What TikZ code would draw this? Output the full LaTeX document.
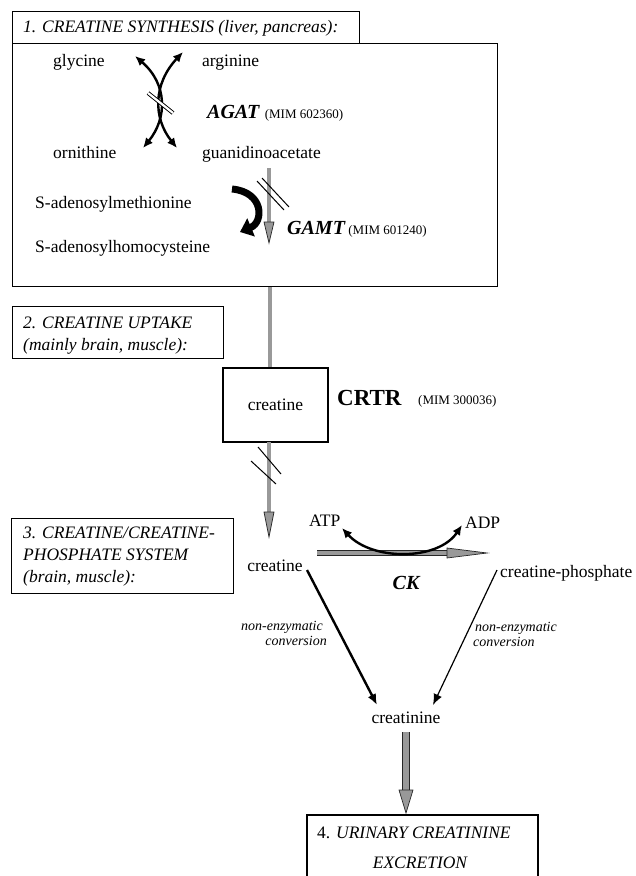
\documentclass[tikz,border=0pt]{standalone}
\usepackage{fontspec}
\setmainfont{Liberation Serif}
\usetikzlibrary{arrows.meta,calc}
\tikzset{
  txt/.style={inner sep=0pt, font=\fontsize{17.5}{21}\selectfont},
  itx/.style={inner sep=0pt, font=\fontsize{17.5}{21}\selectfont\itshape},
  mim/.style={inner sep=0pt, font=\fontsize{13}{15}\selectfont},
  enz/.style={inner sep=0pt, font=\fontsize{20}{24}\selectfont\bfseries\itshape},
  conv/.style={inner sep=0pt, font=\fontsize{14}{16}\selectfont\itshape},
  boxline/.style={draw, line width=1.1pt, inner sep=0pt, anchor=north west},
  blk/.style={line width=2.4pt, {Latex[length=10pt,width=9pt]}-{Latex[length=10pt,width=9pt]}},
  oneway/.style={-{Latex[length=11pt,width=9pt]}},
  bar/.style={line width=0.7pt, draw=black!85, double=black!40, double distance=3.5pt},
  ckbar/.style={line width=0.8pt, draw=black!85, double=black!40, double distance=4pt},
  widebar/.style={line width=0.7pt, draw=black!85, double=black!40, double distance=6pt},
  head/.style={fill=black!40, draw=black!85, line width=0.7pt},
  slash/.style={line width=1pt},
}
\newcommand\grayarr[5]{% style, start, tip, head length, half width
  \draw[#1] (#2) -- ($(#3)+(0,-#4)$);
  \filldraw[head] ($(#3)+(-#5,-#4)$) -- ($(#3)+(#5,-#4)$) -- (#3) -- cycle;}
\begin{document}
\begin{tikzpicture}[x=1pt,y=-1pt]
\useasboundingbox (0,0) rectangle (636,876);

% ---------- section 1 ----------
\node[boxline, minimum width=347pt, minimum height=32pt] (t1box) at (12,11) {};
\node[itx, anchor=base west] (t1) at (23,32) {1. CREATINE SYNTHESIS (liver, pancreas):};
\node[boxline, minimum width=485pt, minimum height=243pt] (box1) at (12,43) {};

\node[txt, anchor=base west] (gly) at (53,66) {glycine};
\node[txt, anchor=base west] (arg) at (202,66) {arginine};
\node[enz, anchor=base west] (agat) at (207,118) {AGAT};
\node[mim, anchor=base west] (agatmim) at ([xshift=5pt]agat.base east) {(MIM 602360)};
\node[txt, anchor=base west] (orn) at (53,158) {ornithine};
\node[txt, anchor=base west] (gaa) at (202,158) {guanidinoacetate};

\coordinate (tl) at (135,56);
\coordinate (tr) at (183,52);
\coordinate (bl) at (143,148);
\coordinate (br) at (177,148);
\draw[blk] (tl) .. controls (167.5,84) and (167.5,118) .. (bl);
\draw[blk] (tr) .. controls (153,84) and (153,118) .. (br);
\coordinate (as1) at (148,93);
\coordinate (as2) at (173,113);
\draw[line width=0.9pt, double=white, double distance=2.2pt] (as1) -- (as2);

\node[txt, anchor=base west] (sam) at (35,208) {S-adenosylmethionine};
\node[txt, anchor=base west] (sah) at (35,252) {S-adenosylhomocysteine};
\coordinate (c1) at (232,189);
\coordinate (c2) at (240,232);
\draw[line width=7pt, -{Triangle[length=12pt,width=19pt]}] (c1) .. controls (264,192) and (264,222) .. (c2);

\coordinate (gt) at (269,168);
\coordinate (gb) at (269,243);
\grayarr{bar}{gt}{gb}{21}{5}
\coordinate (gs1) at (257,181);
\coordinate (gs2) at (284,210);
\draw[slash] (gs1) -- (gs2);
\draw[slash] ($(gs1)+(5,-3)$) -- ($(gs2)+(5,-3)$);
\node[enz, anchor=base west] (gamt) at (287,234) {GAMT};
\node[mim, anchor=base west] (gamtmim) at ([xshift=3pt]gamt.base east) {(MIM 601240)};

% ---------- section 2 ----------
\node[boxline, minimum width=211pt, minimum height=52pt] (t2box) at (12,306) {};
\node[itx, anchor=base west] (t2a) at (23,328) {2. CREATINE UPTAKE};
\node[itx, anchor=base west] (t2b) at (23,350) {(mainly brain, muscle):};

\node[draw, line width=1.1pt, minimum width=105pt, minimum height=74pt, txt] (crbox) at (275.5,405) {creatine};
\node[inner sep=0pt, font=\fontsize{23}{26}\selectfont\bfseries, anchor=base west] (crtr) at (337,405) {CRTR};
\node[mim, anchor=base west] (crtrmim) at (418,404) {(MIM 300036)};

\draw[bar] (box1.south -| 270,0) -- (crbox.north -| 270,0);

% ---------- section 3 ----------
\node[boxline, minimum width=222pt, minimum height=75pt] (t3box) at (11,518) {};
\node[itx, anchor=base west] (t3a) at (23,538) {3. CREATINE/CREATINE-};
\node[itx, anchor=base west] (t3b) at (23,560) {PHOSPHATE SYSTEM};
\node[itx, anchor=base west] (t3c) at (23,582) {(brain, muscle):};

\coordinate (ut) at (269,442);
\coordinate (ub) at (269,537);
\grayarr{bar}{ut}{ub}{25}{5}
\coordinate (us1) at (258,447);
\coordinate (us2) at (281,474);
\draw[slash] (us1) -- (us2);
\draw[slash] (251,461) -- (276,484);

\node[txt, anchor=base] (cr) at (275,571) {creatine};
\node[txt, anchor=base west] (crp) at (500,577) {creatine-phosphate};
\node[txt, anchor=base west] (atp) at (309,526) {ATP};
\node[txt, anchor=base west] (adp) at (465,528) {ADP};
\node[enz, anchor=center] (ck) at (406,583) {CK};

\coordinate (ckS) at (317,553);
\coordinate (ckE) at (487,553);
\draw[ckbar] (ckS) -- ($(ckE)+(-40,0)$);
\filldraw[head] ($(ckE)+(-40,-5)$) -- ($(ckE)+(-40,5)$) -- (ckE) -- cycle;

\coordinate (atpT) at (342,528);
\coordinate (adpT) at (462,525);
\draw[blk] (atpT) .. controls (372,561) and (438,561) .. (adpT);

\node[txt, anchor=center] (crn) at (406,718) {creatinine};
\coordinate (l1) at (307,570);
\coordinate (l2) at (377,705);
\coordinate (r1) at (497,570);
\coordinate (r2) at (433,705);
\draw[oneway, line width=2.4pt] (l1) -- (l2);
\draw[oneway, line width=1.2pt] (r1) -- (r2);

\node[conv, anchor=base east] (ne1) at (323,630) {non-enzymatic};
\node[conv, anchor=base east] (cv1) at (327,645) {conversion};
\node[conv, anchor=base west] (ne2) at (475,631) {non-enzymatic};
\node[conv, anchor=base west] (cv2) at (473,646) {conversion};

% ---------- section 4 ----------
\coordinate (et) at (406,732);
\coordinate (eb) at (406,813);
\grayarr{widebar}{et}{eb}{23}{7}
\draw[line width=1.1pt] (307,877) -- (307,815) -- (538,815) -- (538,877);
\node[txt, anchor=base west] (t4a) at (317,838) {4. \itshape URINARY CREATININE};
\node[itx, anchor=base] (t4b) at (420,868) {EXCRETION};
\end{tikzpicture}
\end{document}
